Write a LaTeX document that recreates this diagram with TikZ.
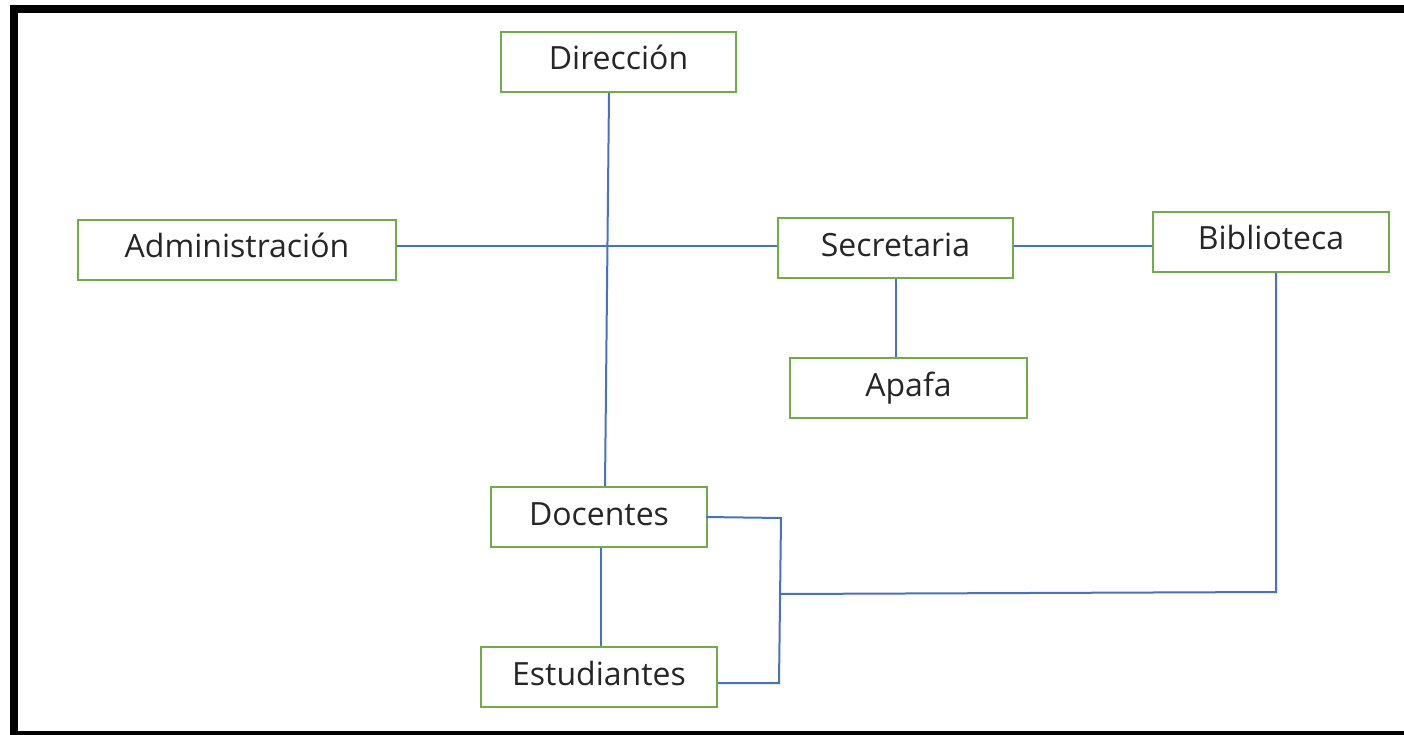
\documentclass[tikz,border=0pt]{standalone}
\usepackage{fontspec}
\setmainfont{Open Sans}
\usepackage{tikz}
\usetikzlibrary{calc}

\definecolor{boxgreen}{RGB}{112,173,71}
\definecolor{linkblue}{RGB}{68,114,196}

\tikzset{
  box/.style={draw=boxgreen, line width=2pt, minimum height=60, inner sep=0pt,
    font=\fontsize{32}{36}\selectfont, text=black!85,
    text height=24pt, text depth=8pt},
  link/.style={draw=linkblue, line width=2pt}
}

\begin{document}
\begin{tikzpicture}[x=1pt, y=-1pt]

\useasboundingbox (0,0) rectangle (1404,735);

% draw outer frame
\draw[line width=8pt] (13.5,9) rectangle (1425,735);

% draw boxes
\foreach \name/\x/\y/\w/\txt in {
    dir/618.5/62/235/Dirección,
    adm/237/250/318/Administración,
    sec/895.5/248/235/Secretaria,
    bib/1271/242/236/Biblioteca,
    apa/908.5/388/237/Apafa,
    doc/599/517/216/Docentes,
    est/599/677/236/Estudiantes}
  \node[box, minimum width=\w] (\name) at (\x,\y) {\txt};

% junction points
\coordinate (jtop) at (781,518);
\coordinate (jmid) at (780,594);
\coordinate (jbot) at (779,683);
\coordinate (bibc) at (1276,592);

% direccion down to docentes
\draw[link] ([xshift=-9.5]dir.south) -- ([xshift=6]doc.north);

% administracion -- secretaria -- biblioteca
\draw[link] ([yshift=4]adm.east) -- ([yshift=2]sec.west);
\draw[link] ([yshift=2]sec.east) -- ([yshift=-4]bib.west);

% secretaria -- apafa
\draw[link] (sec.south) -- (sec.south |- apa.north);

% docentes -- estudiantes
\draw[link] ([xshift=2]doc.south) -- ([xshift=2]est.north);

% right side bracket
\draw[link] ([xshift=-2]doc.east) -- (jtop) -- (jbot) -- ([yshift=-6]est.east);
\draw[link] ([xshift=5]bib.south) -- (bibc) -- (jmid);

\end{tikzpicture}
\end{document}
